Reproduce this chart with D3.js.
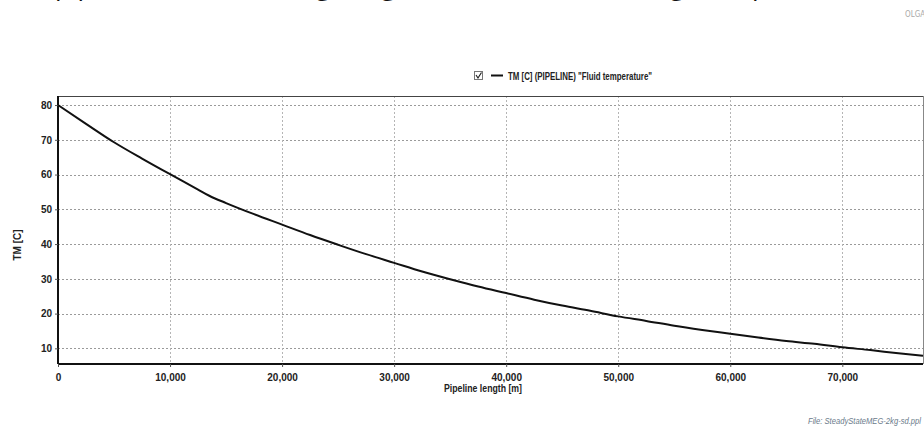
<!DOCTYPE html>
<html>
<head>
<meta charset="utf-8">
<script src="https://cdn.jsdelivr.net/npm/d3@7/dist/d3.min.js"></script>
<style>
  html, body { margin: 0; padding: 0; background: #fff; }
  svg { display: block; }
  .tick text { font-family: "Liberation Sans Narrow", "Liberation Sans", Arial, sans-serif; font-weight: bold; font-size: 10px; fill: #222; }
</style>
</head>
<body>
<svg id="chart" width="924" height="427"></svg>
<script>
// Fluid temperature profile along the pipeline (steady state)
const lengthM = [0, 2500, 5000, 7500, 10000, 12500, 13500, 15000, 17500, 20000, 22500, 25000,
  27500, 30000, 32500, 35000, 37500, 40000, 42500, 45000, 47500, 50000, 52500, 55000,
  57500, 60000, 62500, 65000, 67500, 70000, 72500, 75000, 77200];
const tempC = [80, 74.6, 69.3, 64.6, 60.1, 55.7, 53.9, 51.8, 48.6, 45.6, 42.6, 39.8,
  37.1, 34.6, 32.1, 29.9, 27.8, 25.9, 24.0, 22.3, 20.8, 19.2, 17.9, 16.5,
  15.3, 14.2, 13.1, 12.1, 11.3, 10.3, 9.5, 8.6, 7.9];
const xTicks = [0, 10000, 20000, 30000, 40000, 50000, 60000, 70000];
const yTicks = [10, 20, 30, 40, 50, 60, 70, 80];
const seriesLabel = 'TM [C] (PIPELINE) "Fluid temperature"';
const xTitle = "Pipeline length [m]";
const yTitle = "TM [C]";
const fileLabel = "File: SteadyStateMEG-2kg-sd.ppl";
// caption above the chart, split into phrases; each phrase is placed by one of its letters
const captionParts = ["The pipeline", "cools along", "length", "during", "the production"];
const captionAnchorChar = [4, 10, 4, 5, 4];
const captionAnchorX = [63, 323, 400, 677, 760];

const svg = d3.select("#chart");
const plotL = 58, plotR = 923, plotT = 96, plotB = 364;

const x = d3.scaleLinear().domain([0, 77200]).range([plotL, plotR]);
const y = d3.scaleLinear().domain([5.5, 82.6]).range([plotB, plotT]);

// caption text running off the top edge
captionParts.forEach((t, i) => {
  const el = svg.append("text")
    .attr("y", -5.5)
    .attr("font-family", "Open Sans, sans-serif")
    .attr("font-size", 26)
    .attr("fill", "#111")
    .text(t);
  const node = el.node();
  const k = captionAnchorChar[i];
  const before = k > 0 ? node.getSubStringLength(0, k) : 0;
  const w = node.getSubStringLength(k, 1);
  el.attr("x", captionAnchorX[i] - before - w / 2);
});

svg.append("text")
  .attr("x", 905).attr("y", 17)
  .attr("font-family", "DejaVu Sans Condensed, DejaVu Sans, sans-serif")
  .attr("font-size", 8)
  .attr("fill", "#aaa")
  .text("OLGA");

// grid
const grid = svg.append("g");
grid.selectAll("line.h").data(yTicks).join("line")
  .attr("x1", plotL).attr("x2", plotR)
  .attr("y1", d => Math.round(y(d)) + 0.5).attr("y2", d => Math.round(y(d)) + 0.5)
  .attr("stroke", "#9a9a9a").attr("stroke-width", 1).attr("stroke-dasharray", "2,2");
grid.selectAll("line.v").data(xTicks.filter(d => d > 0)).join("line")
  .attr("y1", plotT).attr("y2", plotB)
  .attr("x1", d => Math.round(x(d)) + 0.5).attr("x2", d => Math.round(x(d)) + 0.5)
  .attr("stroke", "#b5b5b5").attr("stroke-width", 1).attr("stroke-dasharray", "2,2");

// frame
svg.append("line").attr("x1", plotL).attr("x2", plotR).attr("y1", plotT + 0.5).attr("y2", plotT + 0.5)
  .attr("stroke", "#444").attr("stroke-width", 1);
svg.append("line").attr("x1", plotR + 0.5).attr("x2", plotR + 0.5).attr("y1", plotT).attr("y2", plotB)
  .attr("stroke", "#888").attr("stroke-width", 1);

// axes
const xAxis = svg.append("g").attr("transform", `translate(0,${plotB})`)
  .call(d3.axisBottom(x).tickValues(xTicks).tickFormat(d3.format(",")).tickSize(3).tickPadding(7));
const yAxis = svg.append("g").attr("transform", `translate(${plotL},0)`)
  .call(d3.axisLeft(y).tickValues(yTicks).tickSize(3).tickPadding(3));
[xAxis, yAxis].forEach(g => {
  g.select(".domain").attr("stroke", "#111").attr("stroke-width", 2);
  g.selectAll(".tick line").attr("stroke", "#555");
});
xAxis.select(".domain").attr("d", `M${plotL},0H${plotR}`);
yAxis.select(".domain").attr("d", `M0,${plotT}V${plotB}`);

// series line
const pts = lengthM.map((d, i) => [d, tempC[i]]);
svg.append("path").datum(pts)
  .attr("fill", "none").attr("stroke", "#111").attr("stroke-width", 2)
  .attr("stroke-linejoin", "round")
  .attr("d", d3.line().curve(d3.curveMonotoneX).x(d => x(d[0])).y(d => y(d[1])));

// axis titles
svg.append("text")
  .attr("x", 483).attr("y", 392).attr("text-anchor", "middle")
  .attr("font-family", "Liberation Sans Narrow, Liberation Sans, Arial, sans-serif")
  .attr("font-weight", "bold").attr("font-size", 10).attr("fill", "#222")
  .attr("textLength", 78).attr("lengthAdjust", "spacingAndGlyphs")
  .text(xTitle);
svg.append("text")
  .attr("transform", "translate(21,245) rotate(-90)").attr("text-anchor", "middle")
  .attr("font-family", "Liberation Sans Narrow, Liberation Sans, Arial, sans-serif")
  .attr("font-weight", "bold").attr("font-size", 10).attr("fill", "#222")
  .text(yTitle);

// legend
const lg = svg.append("g").attr("transform", "translate(474,71)");
lg.append("rect").attr("x", 0.5).attr("y", 0.5).attr("width", 8).attr("height", 8)
  .attr("fill", "#fff").attr("stroke", "#777");
lg.append("path").attr("d", "M2,4 L4,7 L7.5,1.5").attr("fill", "none").attr("stroke", "#222").attr("stroke-width", 1.2);
lg.append("line").attr("x1", 17).attr("x2", 29).attr("y1", 4.5).attr("y2", 4.5)
  .attr("stroke", "#111").attr("stroke-width", 2);
lg.append("text").attr("x", 34).attr("y", 8.5)
  .attr("font-family", "Liberation Sans Narrow, Liberation Sans, Arial, sans-serif")
  .attr("font-weight", "bold").attr("font-size", 10).attr("fill", "#222")
  .attr("textLength", 144).attr("lengthAdjust", "spacingAndGlyphs")
  .text(seriesLabel);

// file note
svg.append("text")
  .attr("x", 921).attr("y", 424).attr("text-anchor", "end")
  .attr("font-family", "Liberation Sans Narrow, Liberation Sans, Arial, sans-serif")
  .attr("font-style", "italic").attr("font-size", 9).attr("fill", "#6a7a8a")
  .attr("textLength", 113).attr("lengthAdjust", "spacingAndGlyphs")
  .text(fileLabel);
</script>
</body>
</html>
